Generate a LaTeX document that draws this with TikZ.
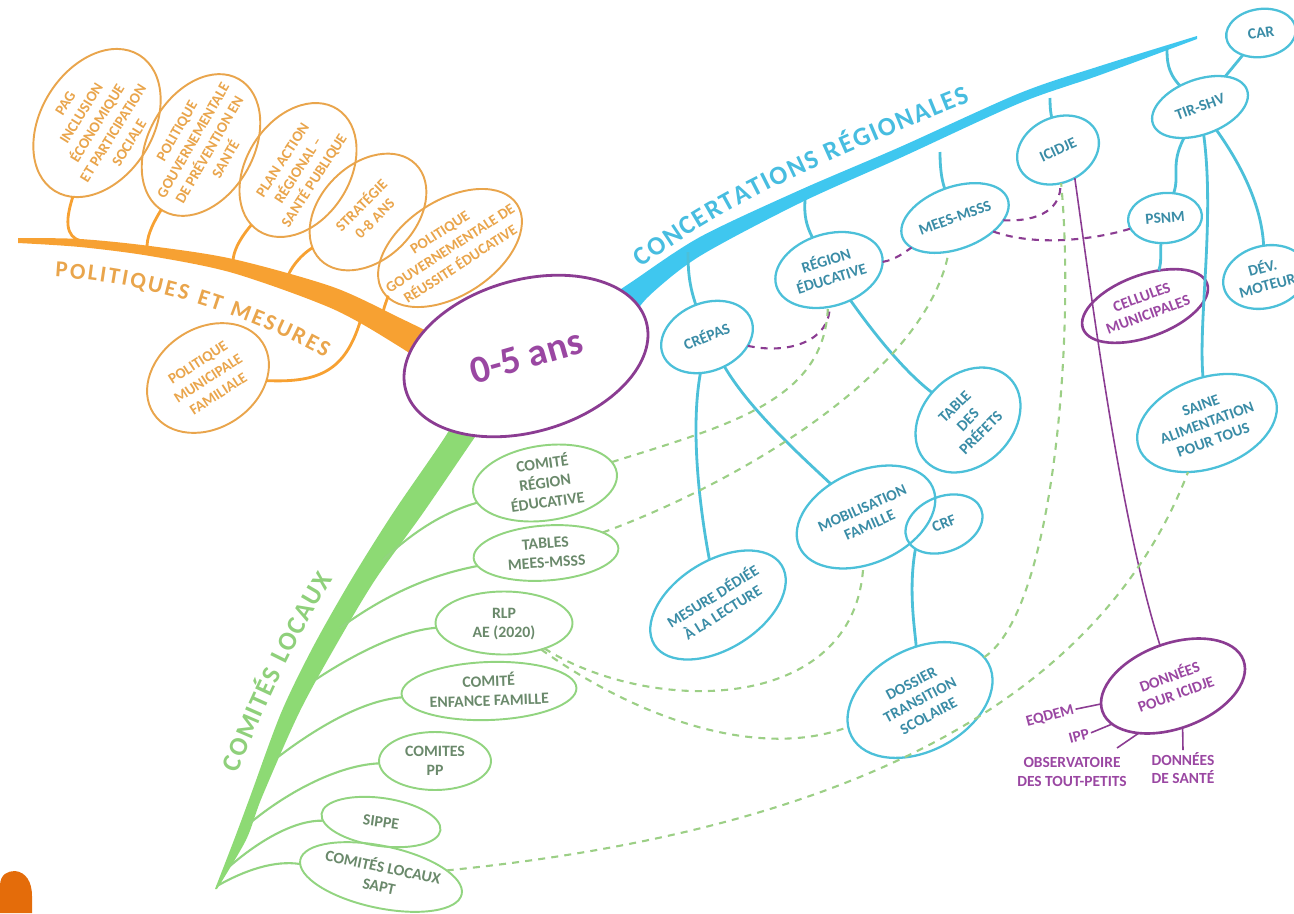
\documentclass[tikz,border=0pt]{standalone}
\usepackage{fontspec}
\setmainfont{Carlito}
\usetikzlibrary{shapes.geometric,decorations.text}
\definecolor{obr}{HTML}{F7A132}
\definecolor{ono}{HTML}{E9A54C}
\definecolor{bbr}{HTML}{3FC7EF}
\definecolor{bno}{HTML}{4CC0D9}
\definecolor{bnt}{HTML}{3A8CA6}
\definecolor{blt}{HTML}{47BDE0}
\definecolor{gbr}{HTML}{8DDA74}
\definecolor{gno}{HTML}{92D480}
\definecolor{gnt}{HTML}{6A896B}
\definecolor{glt}{HTML}{8FD07B}
\definecolor{gda}{HTML}{9CCF86}
\definecolor{pno}{HTML}{8B3C92}
\definecolor{pnt}{HTML}{9A47A2}
\definecolor{oblob}{HTML}{E46C0A}
\newcommand\zt[1]{\makebox[0pt]{\raisebox{-.33em}[0pt][0pt]{\begin{tabular}{@{}c@{}}#1\end{tabular}}}}
\newcommand\ofnt{\fontsize{8.5}{10.7}\selectfont\bfseries}
\newcommand\bfnt{\fontsize{8.8}{10.5}\selectfont\bfseries}
\newcommand\gfnt{\fontsize{9}{11}\selectfont\bfseries}
\newcommand\pfnt{\fontsize{8.8}{10.5}\selectfont\bfseries}
\tikzset{
  ell/.style={ellipse, inner sep=0pt, outer sep=0pt},
  sz/.style 2 args={minimum width=#1*0.02cm, minimum height=#2*0.02cm},
  onode/.style={ell, draw=ono, line width=1.1pt, text=ono, font=\ofnt},
  bnode/.style={ell, draw=bno, line width=1.3pt, text=bnt, font=\bfnt},
  gnode/.style={ell, draw=gno, line width=1.1pt, text=gnt, font=\gfnt},
  pnode/.style={ell, draw=pno, line width=1.5pt, text=pnt, font=\pfnt},
  ostem/.style={draw=obr, line width=1.6pt},
  bstem/.style={draw=bno, line width=1.6pt},
  gstem/.style={draw=gno, line width=1.2pt},
  pline/.style={draw=pno, line width=0.9pt},
  pdash/.style={draw=pno, line width=1.2pt, dash pattern=on 4pt off 3.5pt},
  gdash/.style={draw=gda, line width=1.2pt, dash pattern=on 4pt off 3.5pt},
  plabel/.style={text=pnt, font=\pfnt, inner sep=1pt, align=center},
}
\begin{document}
\begin{tikzpicture}[x=0.02cm, y=-0.02cm]
\useasboundingbox (0,0) rectangle (1294,913);
% ---------- main branches
\fill[obr] plot[smooth] coordinates {(18,238) (80,239) (150,246) (233,259) (333,287) (400,318) (445,340)}
  -- plot[smooth] coordinates {(445,378) (400,347) (333,309) (233,273) (150,256) (80,247) (18,243)} -- cycle;
\fill[bbr] plot[smooth] coordinates {(605,300) (633,281) (700,237) (800,190) (900,147) (1020,93) (1100,66) (1197,36)}
  -- plot[smooth] coordinates {(1197,39) (1100,75) (1020,103) (900,158) (800,203) (700,256) (650,295) (630,320)} -- cycle;
\fill[gbr] plot[smooth] coordinates {(462,405) (445,437) (393,513) (351,580) (313,647) (281,713) (250,797) (234,840) (215,889)}
  -- plot[smooth] coordinates {(217,889) (246,840) (262,797) (299,713) (335,647) (375,580) (423,513) (475,437) (498,405)} -- cycle;
\fill[oblob] (0,913) -- (0,886) .. controls (0,874) and (8,871) .. (15,871) .. controls (26,872) and (32,882) .. (32,896) -- (32,913) -- cycle;
% ---------- branch labels
\path[decorate, decoration={text along path, text color=ono, text align=fit to path,
  text={|\fontsize{13}{13}\selectfont\bfseries|POLITIQUES ET MESURES}}]
  (55,277) .. controls (140,282) and (240,310) .. (325,358);
\path[decorate, decoration={text along path, text color=blt, text align=fit to path,
  text={|\fontsize{15}{15}\selectfont\bfseries|CONCERTATIONS RÉGIONALES}}]
  (642,268) .. controls (720,205) and (850,150) .. (970,102);
\path[decorate, decoration={text along path, text color=glt, text align=fit to path,
  text={|\fontsize{15}{15}\selectfont\bfseries|COMITÉS LOCAUX}}]
  (238,773) .. controls (265,705) and (295,640) .. (333,579);
% ---------- centre
\node[ell, draw=pno, line width=1.6pt, fill=white, sz={250}{152}, rotate=16, text=pnt,
  font=\fontsize{22}{26}\selectfont\bfseries] (P1) at (526,356) {\zt{0-5 ans}};
% ---------- orange nodes
\node[onode, sz={160}{112}, rotate=58] (O1) at (97,123) {\zt{PAG\\INCLUSION\\ÉCONOMIQUE\\ET PARTICIPATION\\SOCIALE}};
\node[onode, sz={152}{105}, rotate=60] (O2) at (201,145) {\zt{POLITIQUE\\GOUVERNEMENTALE\\DE PRÉVENTION EN\\SANTÉ}};
\node[onode, sz={145}{103}, rotate=57] (O3) at (298,170) {\zt{PLAN ACTION\\RÉGIONAL –\\SANTÉ PUBLIQUE}};
\node[onode, sz={135}{95}, rotate=45] (O4) at (368,212) {\zt{STRATÉGIE\\0-8 ANS}};
\node[onode, sz={160}{95}, rotate=33] (O5) at (450,248) {\zt{POLITIQUE\\GOUVERNEMENTALE DE\\RÉUSSITE ÉDUCATIVE}};
\node[onode, sz={130}{100}, rotate=33] (O6) at (208,378) {\zt{POLITIQUE\\MUNICIPALE\\FAMILIALE}};
% ---------- blue nodes
\node[bnode, sz={95}{68}, rotate=22] (B1) at (707,337) {\zt{CRÉPAS}};
\node[bnode, sz={110}{72}, rotate=17] (B2) at (829,270) {\zt{RÉGION\\ÉDUCATIVE}};
\node[bnode, sz={112}{62}, rotate=20] (B3) at (955,218) {\zt{MEES-MSSS}};
\node[bnode, sz={85}{65}, rotate=25] (B4) at (1058,150) {\zt{ICIDJE}};
\node[bnode, sz={100}{55}, rotate=20] (B5) at (1200,107) {\zt{TIR-SHV}};
\node[bnode, sz={70}{48}, rotate=8] (B6) at (1261,33) {\zt{CAR}};
\node[bnode, sz={74}{50}, rotate=5] (B7) at (1165,218) {\zt{PSNM}};
\node[pnode, sz={132}{62}, rotate=20] (B8) at (1145,306) {\zt{CELLULES\\MUNICIPALES}};
\node[bnode, sz={145}{90}, rotate=20] (B9) at (1207,423) {\zt{SAINE\\ALIMENTATION\\POUR TOUS}};
\node[bnode, sz={85}{62}, rotate=15] (B10) at (1265,277) {\zt{DÉV.\\MOTEUR}};
\node[bnode, sz={118}{90}, rotate=45] (B11) at (968,420) {\zt{TABLE\\DES\\PRÉFETS}};
\node[bnode, sz={150}{88}, rotate=32] (B12) at (718,605) {\zt{MESURE DÉDIÉE\\À LA LECTURE}};
\node[bnode, sz={146}{92}, rotate=24] (B13) at (866,517) {\zt{MOBILISATION\\FAMILLE}};
\node[bnode, sz={80}{55}, rotate=22] (B14) at (944,524) {\zt{CRF}};
\node[bnode, sz={155}{102}, rotate=28] (B15) at (920,700) {\zt{DOSSIER\\TRANSITION\\SCOLAIRE}};
% ---------- purple nodes
\node[pnode, sz={150}{85}, rotate=20] (P2) at (1173,686) {\zt{DONNÉES\\POUR ICIDJE}};
\node[plabel, rotate=15] (lEQ) at (1050,716) {EQDEM};
\node[plabel, rotate=15] (lIPP) at (1079,736) {IPP};
\node[plabel] (lOBS) at (1072,772) {OBSERVATOIRE\\DES TOUT-PETITS};
\node[plabel] (lDS) at (1183,768) {DONNÉES\\DE SANTÉ};
% ---------- green nodes
\node[gnode, sz={145}{75}, rotate=8] (G1) at (545,483) {\zt{COMITÉ\\RÉGION\\ÉDUCATIVE}};
\node[gnode, sz={145}{55}, rotate=4] (G2) at (546,553) {\zt{TABLES\\MEES-MSSS}};
\node[gnode, sz={137}{63}] (G3) at (504,623) {\zt{RLP\\AE (2020)}};
\node[gnode, sz={175}{58}, rotate=2] (G4) at (489,691) {\zt{COMITÉ\\ENFANCE FAMILLE}};
\node[gnode, sz={112}{58}] (G5) at (435,761) {\zt{COMITES\\PP}};
\node[gnode, sz={120}{48}, rotate=-8] (G6) at (381,822) {\zt{SIPPE}};
\node[gnode, sz={165}{62}, rotate=-12] (G7) at (381,877) {\zt{COMITÉS LOCAUX\\SAPT}};
% ---------- branch attachment points
\coordinate (ob1) at (86,242);
\coordinate (ob2) at (147,248);
\coordinate (ob3) at (233,262);
\coordinate (ob4) at (288,276);
\coordinate (ob5) at (383,313);
\coordinate (ob6) at (360,322);
\coordinate (cb1) at (688,252);
\coordinate (cb2) at (805,200);
\coordinate (cb3) at (940,152);
\coordinate (cb4) at (1050,98);
\coordinate (cb5) at (1167,48);
\coordinate (cg1) at (383,560);
\coordinate (cg2) at (340,628);
\coordinate (cg3) at (315,680);
\coordinate (cg4) at (278,757);
\coordinate (cg5) at (250,823);
\coordinate (cg6) at (230,866);
\coordinate (cg7) at (217,886);
\coordinate (oOBS) at (1117,748);
% ---------- orange stems
\draw[ostem] (O1) .. controls (62,230) and (70,240) .. (ob1);
\draw[ostem] (O2) .. controls (150,228) and (147,238) .. (ob2);
\draw[ostem] (O3) .. controls (236,243) and (233,255) .. (ob3);
\draw[ostem] (O4) .. controls (298,257) and (290,270) .. (ob4);
\draw[ostem] (O5) .. controls (390,294) and (384,305) .. (ob5);
\draw[ostem] (O6) .. controls (320,383) and (345,370) .. (ob6);
% ---------- blue stems
\draw[bstem] (cb1) .. controls (688,270) and (689,285) .. (B1);
\draw[bstem] (cb2) .. controls (804,215) and (806,225) .. (B2);
\draw[bstem] (cb3) .. controls (940,165) and (941,178) .. (B3);
\draw[bstem] (cb4) .. controls (1050,110) and (1051,114) .. (B4);
\draw[bstem] (cb5) .. controls (1167,60) and (1167,72) .. (B5);
\draw[bstem] (B5) -- (B6);
\draw[bstem] (B5) .. controls (1170,165) and (1180,175) .. (B7);
\draw[bstem] (B7) .. controls (1160,250) and (1162,262) .. (B8);
\draw[bstem] (B5) .. controls (1215,220) and (1198,320) .. (B9);
\draw[bstem] (B5) .. controls (1245,170) and (1262,210) .. (B10);
\draw[bstem] (B2) .. controls (875,335) and (905,372) .. (B11);
\draw[bstem] (B1) .. controls (690,430) and (700,510) .. (B12);
\draw[bstem] (B1) .. controls (750,410) and (800,455) .. (B13);
\draw[bstem] (B14.199) .. controls (908,590) and (915,630) .. (B15);
% ---------- purple links
\draw[pline] (B4.276) .. controls (1092,300) and (1120,520) .. (P2);
\draw[pline] (lEQ.east) -- (P2.174);
\draw[pline] (lIPP.east) -- (P2.192);
\draw[pline] (oOBS) -- (P2.214);
\draw[pline] (lDS.north) -- (P2.263);
\draw[pdash] (B1) .. controls (790,355) and (830,340) .. (B2);
\draw[pdash] (B2) .. controls (895,260) and (905,252) .. (B3);
\draw[pdash] (B3) .. controls (1040,222) and (1062,208) .. (B4);
\draw[pdash] (B3) .. controls (1040,248) and (1100,238) .. (B7);
% ---------- green stems
\draw[gstem] (cg1) .. controls (415,530) and (445,512) .. (G1);
\draw[gstem] (cg2) .. controls (385,595) and (430,575) .. (G2);
\draw[gstem] (cg3) .. controls (360,650) and (405,630) .. (G3);
\draw[gstem] (cg4) .. controls (320,725) and (365,700) .. (G4);
\draw[gstem] (cg5) .. controls (290,790) and (340,765) .. (G5);
\draw[gstem] (cg6) .. controls (260,840) and (295,820) .. (G6);
\draw[gstem] (cg7) .. controls (245,870) and (275,860) .. (G7);
% ---------- green dashed links
\draw[gdash] (G1) .. controls (730,425) and (825,400) .. (B2);
\draw[gdash] (G2) .. controls (720,490) and (925,380) .. (B3);
\draw[gdash] (G3) .. controls (650,715) and (855,715) .. (B13);
\draw[gdash] (G3) .. controls (640,720) and (760,760) .. (B15);
\draw[gdash] (B15) .. controls (1055,610) and (1075,330) .. (B4);
\draw[gdash] (G7) .. controls (850,830) and (1100,700) .. (B9);
\end{tikzpicture}
\end{document}
